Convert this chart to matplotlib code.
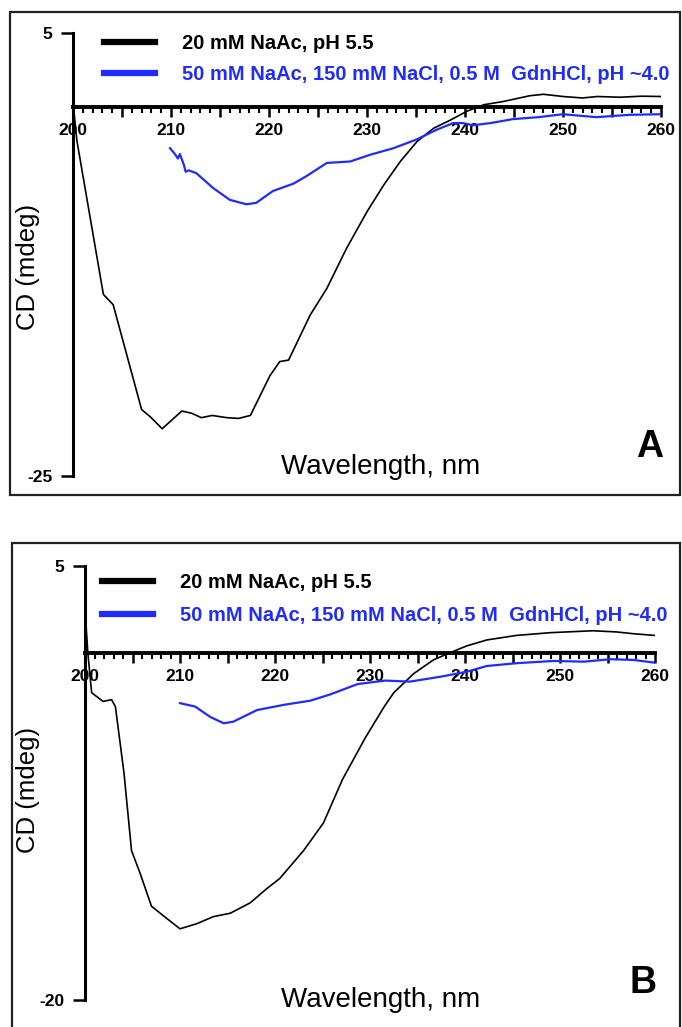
import matplotlib
matplotlib.use("Agg")
import matplotlib.pyplot as plt
from matplotlib.patches import Rectangle
from matplotlib.ticker import MultipleLocator, FuncFormatter

plt.rcParams['font.family'] = ['Liberation Sans', 'DejaVu Sans']

# ---------------- data ----------------
labels = ["20 mM NaAc, pH 5.5", "50 mM NaAc, 150 mM NaCl, 0.5 M  GdnHCl, pH ~4.0"]
colors = ["#000000", "#1f2bff"]

a_black_x = [200.0, 200.4, 203.1, 204.1, 207.0, 207.9, 209.1, 211.1, 212.1, 213.1, 214.2, 215.7,
             216.9, 218.1, 220.1, 221.1, 222.0, 224.2, 225.9, 227.9, 230.0, 231.7, 233.4, 235.1,
             236.8, 238.5, 240.2, 241.9, 243.9, 246.6, 248.0, 250.0, 252.0, 253.5, 255.8, 258.0, 260.0]
a_black_y = [0.3, -2.3, -12.7, -13.4, -20.5, -21.0, -21.8, -20.6, -20.75, -21.05, -20.9, -21.05,
             -21.1, -20.9, -18.2, -17.25, -17.15, -14.1, -12.3, -9.6, -7.1, -5.3, -3.7, -2.35,
             -1.45, -0.9, -0.3, 0.14, 0.36, 0.75, 0.85, 0.7, 0.6, 0.7, 0.65, 0.72, 0.7]

a_blue_x = [209.9, 210.4, 210.7, 210.9, 211.3, 211.5, 211.8, 212.6, 214.3, 216.0, 217.7, 218.7,
            220.4, 222.5, 223.8, 225.9, 228.3, 230.3, 232.7, 235.1, 237.1, 238.8, 239.8, 240.8,
            242.6, 244.9, 247.5, 250.0, 253.4, 256.8, 260.0]
a_blue_y = [-2.8, -3.2, -3.5, -3.2, -3.9, -4.4, -4.3, -4.5, -5.5, -6.3, -6.6, -6.5,
            -5.7, -5.2, -4.7, -3.8, -3.7, -3.25, -2.8, -2.2, -1.55, -1.1, -1.1, -1.25,
            -1.1, -0.83, -0.7, -0.5, -0.7, -0.54, -0.5]

b_black_x = [200.0, 200.3, 200.7, 201.9, 202.8, 203.2, 204.1, 204.9, 205.8, 207.0, 208.6, 210.0,
             211.8, 213.5, 215.3, 217.4, 219.1, 220.5, 223.0, 225.1, 227.1, 229.5, 231.5, 232.5,
             234.6, 236.7, 238.4, 240.2, 242.3, 245.4, 249.0, 253.5, 256.0, 257.7, 260.0]
b_black_y = [2.5, 0.0, -2.3, -2.8, -2.7, -3.1, -6.9, -11.4, -12.7, -14.6, -15.3, -15.9,
             -15.6, -15.2, -15.0, -14.4, -13.6, -13.0, -11.4, -9.8, -7.3, -4.9, -3.1, -2.3,
             -1.2, -0.4, 0.0, 0.4, 0.74, 1.0, 1.16, 1.27, 1.2, 1.1, 1.0]

b_blue_x = [210.0, 211.6, 213.2, 214.6, 215.6, 218.1, 220.9, 223.7, 225.8, 228.7, 231.6, 234.2,
            237.4, 240.2, 242.3, 245.4, 249.3, 252.5, 255.3, 257.7, 260.0]
b_blue_y = [-2.9, -3.1, -3.7, -4.06, -3.97, -3.3, -3.0, -2.76, -2.4, -1.8, -1.6, -1.66,
            -1.38, -1.09, -0.76, -0.6, -0.47, -0.51, -0.37, -0.41, -0.57]

panels = [
    dict(bx=a_black_x, by=a_black_y, ux=a_blue_x, uy=a_blue_y, ylim=(-25, 5), tag="A"),
    dict(bx=b_black_x, by=b_black_y, ux=b_blue_x, uy=b_blue_y, ylim=(-20, 5), tag="B"),
]

W, H = 682, 1027
fig = plt.figure(figsize=(W / 100, H / 100), dpi=100)

def fx(px):
    return px / W

def fy(py):
    return 1 - py / H

# axes placement in pixels: (left x, right x, top y, bottom y)
boxes = [(73, 661, 33, 476), (85, 655, 566, 1000)]
frames = [(10, 12, 680, 495), (12, 543, 680, 1040)]
leg_anchor = [(104, 34), (102, 573)]
leg_spacing = [0.6, 0.7]
ylab_pos = [(40, 267), (40, 790)]
xlab_pos = [(381, 467), (381, 1000)]
tag_pos = [(650, 447), (643, 983)]

for i, p in enumerate(panels):
    l, r, t, b = boxes[i]
    ax = fig.add_axes([fx(l), fy(b), (r - l) / W, (b - t) / H])
    ax.set_xlim(200, 260)
    ax.set_ylim(*p["ylim"])
    line_b, = ax.plot(p["bx"], p["by"], color=colors[0], lw=1.2, label=labels[0], zorder=3)
    line_u, = ax.plot(p["ux"], p["uy"], color=colors[1], lw=1.6, label=labels[1], zorder=3)

    for s in ["top", "right"]:
        ax.spines[s].set_visible(False)
    ax.spines["left"].set_linewidth(2.2)
    ax.spines["left"].set_zorder(4)
    ax.spines["bottom"].set_position(("data", 0))
    ax.spines["bottom"].set_linewidth(2.8)

    ax.xaxis.set_major_locator(MultipleLocator(5))
    ax.xaxis.set_minor_locator(MultipleLocator(1))
    ax.xaxis.set_major_formatter(FuncFormatter(lambda v, pos: f"{int(round(v))}" if round(v) % 10 == 0 else ""))
    ax.tick_params(axis="x", which="major", direction="out", length=7, width=1.8, pad=5,
                   labelsize=12.5)
    ax.tick_params(axis="x", which="minor", direction="out", length=4, width=1.5)
    ax.set_yticks(list(p["ylim"]))
    ax.set_yticklabels([str(v) for v in p["ylim"]])
    ax.tick_params(axis="y", direction="out", length=9, width=1.8, pad=6, labelsize=12.5)
    for lab in ax.get_xticklabels() + ax.get_yticklabels():
        lab.set_fontweight("bold")

    ax.set_ylabel("CD (mdeg)", fontsize=18.5)
    ax.yaxis.set_label_coords((ylab_pos[i][0] - l) / (r - l), (b - ylab_pos[i][1]) / (b - t))
    ax.set_xlabel("Wavelength, nm", fontsize=20)
    ax.xaxis.set_label_coords((xlab_pos[i][0] - l) / (r - l), (b - xlab_pos[i][1]) / (b - t))
    ax.xaxis.label.set_va("center")

    ax.text((tag_pos[i][0] - l) / (r - l), (b - tag_pos[i][1]) / (b - t), p["tag"],
            transform=ax.transAxes, fontsize=27, fontweight="bold", ha="center", va="center")

    leg = ax.legend(handles=[line_b, line_u], loc="upper left",
                    bbox_to_anchor=(fx(leg_anchor[i][0]), fy(leg_anchor[i][1])),
                    bbox_transform=fig.transFigure, frameon=False, borderpad=0,
                    borderaxespad=0, handlelength=2.55, handletextpad=1.3,
                    labelspacing=leg_spacing[i], prop={"size": 14.5, "weight": "bold"})
    for hl in leg.get_lines():
        hl.set_linewidth(4.5)
    for txt, c in zip(leg.get_texts(), colors):
        txt.set_color(c)

    x0, y0, x1, y1 = frames[i]
    fig.patches.append(Rectangle((fx(x0), fy(y1)), (x1 - x0) / W, (y1 - y0) / H,
                                 transform=fig.transFigure, fill=False, lw=1.6,
                                 ec="#222222"))

fig.savefig("out.png", dpi=100)
